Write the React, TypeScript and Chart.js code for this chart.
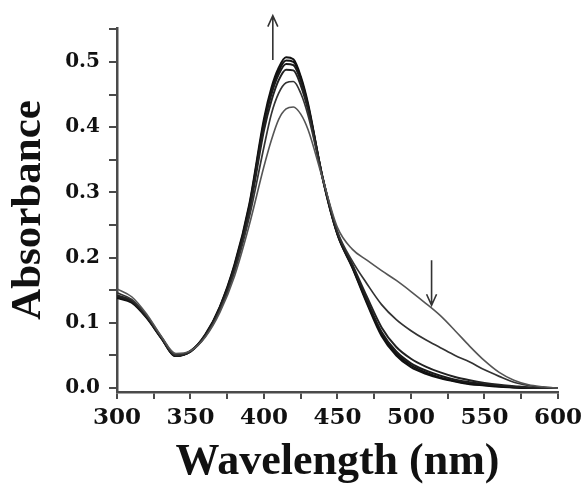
import React, { useEffect, useRef } from "react";
import { Chart, registerables } from "chart.js";

Chart.register(...registerables);

const wavelengths = [300, 310, 320, 330, 340, 350, 360, 370, 380, 390, 400, 405, 410, 415, 420, 425, 430, 440, 450, 460, 470, 480, 490, 500, 510, 520, 530, 540, 550, 560, 570, 580, 590, 600];

const seriesA = [0.152, 0.140, 0.114, 0.080, 0.053, 0.057, 0.078, 0.116, 0.172, 0.250, 0.340, 0.380, 0.412, 0.428, 0.431, 0.420, 0.396, 0.320, 0.246, 0.213, 0.196, 0.180, 0.165, 0.148, 0.130, 0.111, 0.088, 0.064, 0.042, 0.024, 0.012, 0.005, 0.002, 0];
const seriesB = [0.146, 0.136, 0.112, 0.079, 0.051, 0.057, 0.079, 0.119, 0.178, 0.262, 0.370, 0.420, 0.452, 0.468, 0.470, 0.452, 0.418, 0.322, 0.240, 0.195, 0.160, 0.128, 0.105, 0.088, 0.074, 0.062, 0.050, 0.040, 0.028, 0.018, 0.009, 0.004, 0.001, 0];
const seriesC = [0.142, 0.134, 0.110, 0.078, 0.050, 0.056, 0.080, 0.121, 0.183, 0.270, 0.395, 0.440, 0.472, 0.488, 0.487, 0.464, 0.426, 0.321, 0.238, 0.190, 0.140, 0.093, 0.063, 0.045, 0.033, 0.024, 0.017, 0.012, 0.008, 0.005, 0.003, 0.001, 0, 0];
const seriesD = [0.140, 0.133, 0.110, 0.078, 0.050, 0.057, 0.081, 0.123, 0.186, 0.275, 0.403, 0.450, 0.481, 0.497, 0.495, 0.471, 0.431, 0.322, 0.236, 0.188, 0.135, 0.086, 0.056, 0.038, 0.027, 0.019, 0.013, 0.009, 0.006, 0.004, 0.002, 0.001, 0, 0];
const seriesE = [0.139, 0.132, 0.109, 0.077, 0.049, 0.056, 0.081, 0.124, 0.188, 0.279, 0.408, 0.455, 0.486, 0.502, 0.500, 0.475, 0.433, 0.321, 0.236, 0.186, 0.132, 0.083, 0.053, 0.035, 0.024, 0.016, 0.011, 0.007, 0.005, 0.003, 0.001, 0, 0, 0];
const seriesF = [0.138, 0.131, 0.108, 0.077, 0.049, 0.056, 0.082, 0.125, 0.190, 0.282, 0.413, 0.460, 0.491, 0.507, 0.504, 0.478, 0.436, 0.320, 0.235, 0.185, 0.130, 0.080, 0.050, 0.032, 0.022, 0.015, 0.010, 0.006, 0.004, 0.002, 0.001, 0, 0, 0];

const xTickValues = [300, 325, 350, 375, 400, 425, 450, 475, 500, 525, 550, 575, 600];
const xTickLabels = ["300", "", "350", "", "400", "", "450", "", "500", "", "550", "", "600"];
const yTickValues = [0, 0.05, 0.1, 0.15, 0.2, 0.25, 0.3, 0.35, 0.4, 0.45, 0.5, 0.55];
const yTickLabels = ["0.0", "", "0.1", "", "0.2", "", "0.3", "", "0.4", "", "0.5", ""];

// arrows: wavelength, start absorbance, end absorbance (head at end)
const arrowX = [406, 514];
const arrowFrom = [0.503, 0.196];
const arrowTo = [0.571, 0.127];

const seriesList = [seriesA, seriesB, seriesC, seriesD, seriesE, seriesF];
const seriesColors = ["#555", "#333", "#222", "#1a1a1a", "#111", "#111"];
const seriesWidths = [1.6, 1.7, 2, 2, 2, 2];

const SERIF = "'Liberation Serif', 'Times New Roman', serif";
const TICKFONT = "'DejaVu Serif', serif";
const AXIS = "#4a4a4a";

const arrowPlugin = {
  id: "arrows",
  afterDatasetsDraw(chart: any) {
    const { ctx, scales } = chart;
    const xs = scales.x;
    const ys = scales.y;
    ctx.save();
    ctx.strokeStyle = "#333";
    ctx.lineWidth = 1.6;
    for (let i = 0; i < arrowX.length; i++) {
      const px = xs.getPixelForValue(arrowX[i]);
      const y0 = ys.getPixelForValue(arrowFrom[i]);
      const y1 = ys.getPixelForValue(arrowTo[i]);
      const dir = y1 < y0 ? 1 : -1;
      ctx.beginPath();
      ctx.moveTo(px, y0);
      ctx.lineTo(px, y1);
      ctx.moveTo(px - 5, y1 + dir * 11);
      ctx.lineTo(px, y1);
      ctx.lineTo(px + 5, y1 + dir * 11);
      ctx.stroke();
    }
    ctx.restore();
  },
};

export default function App() {
  const ref = useRef<HTMLCanvasElement | null>(null);

  useEffect(() => {
    document.body.style.margin = "0";
    document.body.style.background = "#fff";
    if (!ref.current) return;
    const chart = new Chart(ref.current, {
      type: "line",
      data: {
        datasets: seriesList.map((s, i) => ({
          label: "s" + i,
          data: s.map((v, j) => ({ x: wavelengths[j], y: v })),
          borderColor: seriesColors[i],
          borderWidth: seriesWidths[i],
          pointRadius: 0,
          fill: false,
          cubicInterpolationMode: "monotone" as const,
        })),
      },
      options: {
        animation: false,
        responsive: true,
        maintainAspectRatio: false,
        layout: { padding: { top: 28, right: 24, left: 0, bottom: 0 } },
        plugins: {
          legend: { display: false },
          tooltip: { enabled: false },
        },
        scales: {
          x: {
            type: "linear",
            min: 300,
            max: 600,
            afterFit: (s: any) => { s.height = 93; },
            afterBuildTicks: (s: any) => { s.ticks = xTickValues.map((v) => ({ value: v })); },
            ticks: {
              autoSkip: false,
              maxRotation: 0,
              padding: 5,
              color: "#111",
              font: { family: TICKFONT, weight: "bold", size: 23 },
              callback: (v: any) => xTickLabels[xTickValues.indexOf(Number(v))] ?? "",
            },
            grid: { drawOnChartArea: false, drawTicks: true, tickLength: 7, color: AXIS, lineWidth: 2 },
            border: { display: true, color: AXIS, width: 2.5 },
            title: {
              display: true,
              text: "Wavelength (nm)",
              color: "#111",
              font: { family: SERIF, weight: "bold", size: 44, lineHeight: 1 },
              padding: { top: 0, bottom: 0 },
            },
          },
          y: {
            type: "linear",
            min: -0.006,
            max: 0.552,
            afterFit: (s: any) => { s.width = 117; },
            afterBuildTicks: (s: any) => { s.ticks = yTickValues.map((v) => ({ value: v })); },
            ticks: {
              autoSkip: false,
              padding: 9,
              color: "#111",
              font: { family: TICKFONT, weight: "bold", size: 20 },
              callback: (v: any) => {
                const idx = yTickValues.findIndex((t) => Math.abs(t - Number(v)) < 1e-6);
                return idx >= 0 ? yTickLabels[idx] : "";
              },
            },
            grid: { drawOnChartArea: false, drawTicks: true, tickLength: 8, color: AXIS, lineWidth: 2 },
            border: { display: true, color: AXIS, width: 2.5 },
            title: {
              display: true,
              text: "Absorbance",
              color: "#111",
              font: { family: SERIF, weight: "bold", size: 43, lineHeight: 1 },
              padding: { top: 7, bottom: 0 },
            },
          },
        },
      },
      plugins: [arrowPlugin],
    });
    return () => chart.destroy();
  }, []);

  return (
    <div style={{ position: "relative", width: 587, height: 485, background: "#fff" }}>
      <canvas ref={ref} />
    </div>
  );
}
